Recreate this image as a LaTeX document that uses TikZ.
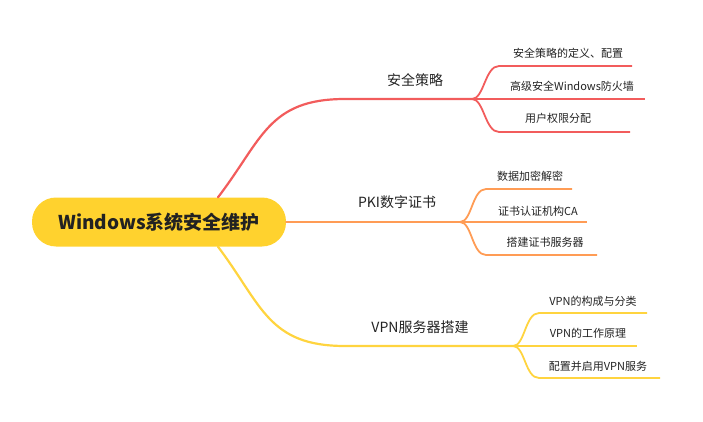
\documentclass[tikz,border=0pt]{standalone}
\usepackage{fontspec}
\setmainfont{Noto Sans CJK SC}
\usetikzlibrary{positioning}
\definecolor{redline}{HTML}{F25C5C}
\definecolor{orangeline}{HTML}{FF9C55}
\definecolor{yellowline}{HTML}{FFD43F}
\definecolor{rootfill}{HTML}{FFD22E}
\definecolor{inkgray}{HTML}{222222}

\begin{document}
\begin{tikzpicture}[x=1pt, y=-1pt,
    root/.style={rounded corners=24pt, fill=rootfill, minimum width=254pt, minimum height=49pt, font=\fontsize{19}{21}\selectfont\bfseries, text=inkgray},
    topic/.style={font=\fontsize{14}{16}\selectfont, inner sep=0pt, text=inkgray},
    leaf/.style={font=\fontsize{11}{13}\selectfont, inner sep=0pt, text=inkgray},
    branch/.style={line width=2.2pt, line cap=round},
    twig/.style={line width=1.8pt}
]
    \useasboundingbox (0,0) rectangle (703,422);
    \node[root] (root) at (159,222) {Windows系统安全维护};

    % main branches
    \coordinate (f1) at (472,99);
    \coordinate (f2) at (460,222);
    \coordinate (f3) at (513,346);
    \node[topic] (t1) at (415,80) {安全策略};
    \node[topic] (t2) at (397,202) {PKI数字证书};
    \node[topic] (t3) at (420,327) {VPN服务器搭建};
    \draw[branch, redline] ([xshift=59pt]root.north) .. controls (262,140) and (268,99) .. (345,99) -- (f1);
    \draw[branch, orangeline] (root.east) -- (f2);
    \draw[branch, yellowline] ([xshift=59pt]root.south) .. controls (262,305) and (268,346) .. (345,346) -- (f3);

    % leaves
    \foreach \i/\label/\tx/\ty/\ly/\lx in {1/安全策略的定义、配置/568/53/66/632, 2/高级安全Windows防火墙/572/86/99/645, 3/用户权限分配/558/118/132/630} {
        \node[leaf] (l1\i) at (\tx,\ty) {\label};
        \coordinate (e1\i) at (\lx,\ly);
        \draw[twig, redline] (f1) .. controls +(12,0) and +(-14,0) .. (499,\ly) -- (e1\i);
    }
    \foreach \i/\label/\tx/\ty/\ly/\lx in {1/数据加密解密/530/176/189/572, 2/证书认证机构CA/538/211/222/587, 3/搭建证书服务器/545/242/255/597} {
        \node[leaf] (l2\i) at (\tx,\ty) {\label};
        \coordinate (e2\i) at (\lx,\ly);
        \draw[twig, orangeline] (f2) .. controls +(12,0) and +(-14,0) .. (486,\ly) -- (e2\i);
    }
    \foreach \i/\label/\tx/\ty/\ly/\lx in {1/VPN的构成与分类/593/301/313/647, 2/VPN的工作原理/588/333/346/637, 3/配置并启用VPN服务/598/366/378/660} {
        \node[leaf] (l3\i) at (\tx,\ty) {\label};
        \coordinate (e3\i) at (\lx,\ly);
        \draw[twig, yellowline] (f3) .. controls +(12,0) and +(-14,0) .. (539,\ly) -- (e3\i);
    }
\end{tikzpicture}
\end{document}
